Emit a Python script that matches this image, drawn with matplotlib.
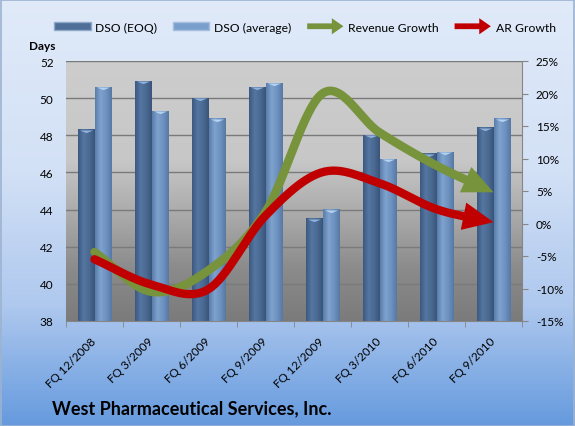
import numpy as np
import matplotlib
matplotlib.use('Agg')
import matplotlib.pyplot as plt
import matplotlib.patches as mpatches
from matplotlib.colors import LinearSegmentedColormap
from matplotlib.legend_handler import HandlerPatch

# data
quarters = ['FQ 12/2008', 'FQ 3/2009', 'FQ 6/2009', 'FQ 9/2009',
            'FQ 12/2009', 'FQ 3/2010', 'FQ 6/2010', 'FQ 9/2010']
dso_eoq = [48.3, 50.9, 50.0, 50.6, 43.5, 48.0, 47.0, 48.4]
dso_avg = [50.6, 49.3, 48.9, 50.8, 44.0, 46.7, 47.1, 48.9]
revenue_growth = [-4.4, -10.5, -7.2, 1.8, 20.0, 14.0, 8.9, 4.8]
ar_growth = [-5.5, -9.4, -10.1, 1.2, 7.9, 6.2, 2.2, 0.2]

plt.rcParams['font.family'] = ['Lato', 'DejaVu Sans']

GREEN = '#77933c'
RED = '#c00000'


def smooth(xs, ys, n=30):
    # Catmull-Rom curve through the points, like Excel's smoothed line
    pts = np.column_stack([xs, ys]).astype(float)
    ext = np.vstack([2 * pts[0] - pts[1], pts, 2 * pts[-1] - pts[-2]])
    t = np.linspace(0, 1, n, endpoint=False)[:, None]
    segs = []
    for i in range(1, len(ext) - 2):
        p0, p1, p2, p3 = ext[i - 1:i + 3]
        segs.append(0.5 * (2 * p1 + (p2 - p0) * t
                           + (2 * p0 - 5 * p1 + 4 * p2 - p3) * t ** 2
                           + (-p0 + 3 * p1 - 3 * p2 + p3) * t ** 3))
    segs.append(pts[-1:])
    return np.vstack(segs)


class ArrowHandler(HandlerPatch):
    def create_artists(self, legend, orig_handle, xdescent, ydescent,
                       width, height, fontsize, trans):
        y = -ydescent + height / 2
        arr = mpatches.FancyArrow(-xdescent, y, width, 0, width=height * 0.75,
                                  head_width=height * 2.1, head_length=width * 0.32,
                                  length_includes_head=True,
                                  color=orig_handle.get_facecolor(), lw=0)
        arr.set_transform(trans)
        return [arr]


fig = plt.figure(figsize=(5.75, 4.27), dpi=100)

# blue figure background
bg = fig.add_axes([0, 0, 1, 1], zorder=-10)
bg_cmap = LinearSegmentedColormap.from_list(
    'bg', [(0, '#e0eaf9'), (0.4, '#d3e1f6'), (0.72, '#aec8ee'), (1, '#659ade')])
bg.imshow(np.linspace(0, 1, 256)[:, None], aspect='auto', cmap=bg_cmap,
          extent=[0, 1, 0, 1])
bg.set_xlim(0, 1)
bg.set_ylim(0, 1)
bg.axis('off')
bg.add_patch(mpatches.Rectangle((0.001, 0.001), 0.998, 0.997, transform=bg.transAxes,
                                fill=False, edgecolor='#9cb3d0', lw=1.2))

ax = fig.add_axes([66 / 575, 105 / 427, 456 / 575, 260 / 427])
ax.set_xlim(-0.5, 7.5)
ax.set_ylim(38, 52)

# grey plot area gradient
plot_cmap = LinearSegmentedColormap.from_list(
    'plotbg', [(0, '#cdcdcd'), (0.38, '#c7c7c7'), (0.6, '#a9a9a9'),
               (0.8, '#8b8b8b'), (1, '#7b7b7b')])
ax.imshow(np.linspace(0, 1, 256)[:, None], aspect='auto', cmap=plot_cmap,
          extent=[-0.5, 7.5, 38, 52], zorder=0)
ax.set_axisbelow(True)
ax.yaxis.grid(True, color='#7a7a7a', lw=1)
ax.set_yticks(range(38, 53, 2))

x = np.arange(len(quarters))
w = 0.29
bars_eoq = ax.bar(x - w / 2, dso_eoq, w, color='#4a6a93', zorder=2)
bars_avg = ax.bar(x + w / 2, dso_avg, w, color='#6d92c1', zorder=2)

# cylinder shading on each bar
eoq_cmap = LinearSegmentedColormap.from_list('eoq', ['#3c5880', '#5476a0', '#4a6a93', '#3a5479'])
avg_cmap = LinearSegmentedColormap.from_list('avg', ['#5a7eab', '#7fa2ce', '#6d92c1', '#5878a3'])
for bars, cmap in [(bars_eoq, eoq_cmap), (bars_avg, avg_cmap)]:
    for r in bars:
        ax.imshow(np.linspace(0, 1, 64)[None, :], aspect='auto', cmap=cmap,
                  extent=[r.get_x(), r.get_x() + r.get_width(), 38, r.get_height()],
                  zorder=2.2)
cap = [(-1, 0), (1, 0), (0, -0.4)]
ax.scatter(x - w / 2, dso_eoq, marker=cap, s=90, color='#8fb2dc', zorder=3, lw=0)
ax.scatter(x + w / 2, dso_avg, marker=cap, s=90, color='#b5d3f1', zorder=3, lw=0)

ax.set_xticks(x)
ax.set_xticklabels(quarters, rotation=45, ha='right', va='center',
                   rotation_mode='anchor', fontsize=8.5)
ax.set_xticks(np.arange(-0.5, 8), minor=True)
ax.tick_params(axis='x', which='major', length=0, pad=13)
ax.tick_params(axis='x', which='minor', length=4, color='#868686')
ax.tick_params(axis='y', length=0, pad=9, labelsize=8.5)
for s in ['left', 'top', 'right']:
    ax.spines[s].set_visible(False)
ax.spines['bottom'].set_color('#868686')

ax2 = ax.twinx()
ax2.set_ylim(-15, 25)
ax2.set_yticks(range(-15, 30, 5))
ax2.set_yticklabels([f'{v}%' for v in range(-15, 30, 5)])
ax2.tick_params(axis='y', length=4, pad=6, color='#868686', labelsize=8.5)
for s in ['left', 'top', 'bottom']:
    ax2.spines[s].set_visible(False)
ax2.spines['right'].set_color('#868686')

for vals, color, lw in [(revenue_growth, GREEN, 6.2), (ar_growth, RED, 6.0)]:
    curve = smooth(x, vals)
    pix = ax2.transData.transform(curve)
    dist = np.hypot(*(pix - pix[-1]).T)
    k = np.where(dist > 29)[0][-1]
    ax2.plot(curve[:k + 1, 0], curve[:k + 1, 1], color=color, lw=lw,
             solid_capstyle='round', zorder=3)
    ax2.annotate('', xy=curve[-1], xytext=curve[k],
                 arrowprops=dict(arrowstyle='-|>,head_length=1.1,head_width=0.5',
                                 color=color, lw=0, mutation_scale=20,
                                 shrinkA=0, shrinkB=0), zorder=4)

handles = [mpatches.Patch(facecolor='#4f6f98', edgecolor='#8ea8c8'),
           mpatches.Patch(facecolor='#7b9fcc', edgecolor='#a5bedc'),
           mpatches.Patch(facecolor=GREEN),
           mpatches.Patch(facecolor=RED)]
labels = ['DSO (EOQ)', 'DSO (average)', 'Revenue Growth', 'AR Growth']
fig.legend(handles, labels, loc='center', bbox_to_anchor=(305 / 575, 1 - 28 / 427),
           ncol=4, frameon=False, fontsize=8.7, handlelength=3.0, handleheight=0.6,
           handletextpad=0.4, columnspacing=1.3,
           handler_map={handles[2]: ArrowHandler(), handles[3]: ArrowHandler()})

fig.text(42 / 575, 1 - 46 / 427, 'Days', ha='center', va='center',
         fontweight='bold', fontsize=8.5)
fig.text(52 / 575, 1 - 409 / 427, 'West Pharmaceutical Services, Inc.',
         ha='left', va='center', fontweight='bold', fontsize=13)

fig.savefig('out.png', dpi=100)
